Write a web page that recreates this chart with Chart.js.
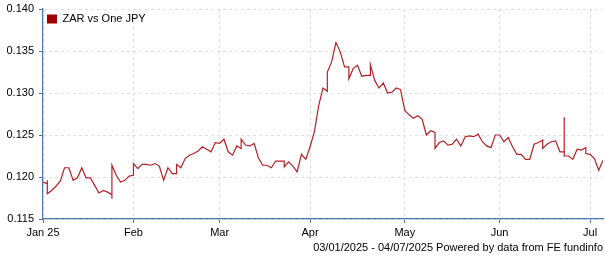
<!DOCTYPE html>
<html>
<head>
<meta charset="utf-8">
<script src="https://cdn.jsdelivr.net/npm/chart.js@4.4.1/dist/chart.umd.min.js"></script>
<style>
  html, body { margin: 0; padding: 0; background: #fff; }
  #wrap { width: 605px; height: 260px; }
</style>
</head>
<body>
<div id="wrap"><canvas id="myChart" width="605" height="260"></canvas></div>
<script>
// Rango de fechas (dias habiles)
const startDate = "2025-01-03";
const endDate = "2025-07-04";
const monthLabels = ["Jan 25", "Feb", "Mar", "Apr", "May", "Jun", "Jul"];
const yTicks = [0.115, 0.120, 0.125, 0.130, 0.135, 0.140];
const seriesName = "ZAR vs One JPY";
const footerText = "03/01/2025 - 04/07/2025 Powered by data from FE fundinfo";

// Un valor por dia habil; un array = varios valores el mismo dia (salto vertical)
const rates = [
  0.1194, [0.1192, 0.1196, 0.1180], 0.1184, 0.1189, 0.1195, 0.1211, 0.1211, 0.1196, 0.1199, 0.1211,
  0.1199, 0.1199, 0.1190, 0.1181, 0.1184, 0.1182, [0.1179, 0.1174, 0.1214], 0.1202, 0.1194, 0.1196,
  0.1201, [0.1202, 0.1216], 0.1210, 0.1215, 0.1215, 0.1214, 0.1216, 0.1213, 0.1196, 0.1211,
  0.1204, [0.1204, 0.1215], 0.1211, 0.1222, 0.1226, 0.1228, 0.1231, 0.1236, 0.1233, 0.1230,
  0.1241, 0.1240, 0.1245, 0.1230, 0.1226, 0.1237, [0.1234, 0.1245], 0.1238, 0.1237, 0.1240,
  0.1223, 0.1214, 0.1214, 0.1211, 0.1219, 0.1219, [0.1219, 0.1212], 0.1218, 0.1213, 0.1206,
  0.1227, 0.1221, 0.1236, 0.1254, 0.1285, 0.1306, [0.1302, 0.1325], 0.1337, 0.1360, 0.1349,
  0.1331, [0.1331, 0.1317], 0.1329, 0.1333, 0.1320, 0.1321, [0.1321, 0.1334], 0.1315, 0.1306, 0.1312,
  0.1300, 0.1301, 0.1306, 0.1304, 0.1279, 0.1274, 0.1270, 0.1273, 0.1269, 0.1250,
  0.1255, [0.1253, 0.1234], 0.1241, 0.1243, 0.1238, 0.1239, 0.1245, 0.1237, 0.1248, 0.1249,
  0.1248, 0.1251, 0.1242, 0.1237, 0.1235, 0.1250, 0.1250, 0.1242, 0.1247, 0.1236,
  0.1227, 0.1227, 0.1221, 0.1221, 0.1239, 0.1241, [0.1244, 0.1234], 0.1239, 0.1242, 0.1243,
  0.1230, [0.1230, 0.1271, 0.1225], 0.1225, 0.1221, 0.1233, 0.1232, [0.1235, 0.1228], 0.1227, 0.1222, 0.1208,
  0.1220
];

// Lista de dias habiles
function tradingDays(from, to) {
  const days = [];
  const d = new Date(from + "T00:00:00Z");
  const last = new Date(to + "T00:00:00Z");
  while (d <= last) {
    const wd = d.getUTCDay();
    if (wd !== 0 && wd !== 6) days.push(new Date(d));
    d.setUTCDate(d.getUTCDate() + 1);
  }
  return days;
}

const days = tradingDays(startDate, endDate);

// Primer dia habil de cada mes -> posicion de la marca
const monthTicks = [];
days.forEach((d, i) => {
  if (i === 0 || d.getUTCMonth() !== days[i - 1].getUTCMonth()) monthTicks.push(i);
});

const points = [];
rates.forEach((r, i) => {
  const vals = Array.isArray(r) ? r : [r];
  vals.forEach(v => points.push({ x: i, y: v }));
});

const axisBlue = "#4a78ae";
const gridGrey = "#e0e0e0";

Chart.defaults.font.family = "'Liberation Sans', Arial, sans-serif";
Chart.defaults.font.size = 11;
Chart.defaults.color = "#000";

const ctx = document.getElementById("myChart").getContext("2d");
const chart = new Chart(ctx, {
  type: "line",
  data: {
    datasets: [{
      label: seriesName,
      data: points,
      borderColor: "#b42025",
      backgroundColor: "#9e0000",
      borderWidth: 1.2,
      pointRadius: 0,
      tension: 0,
      fill: false
    }]
  },
  options: {
    responsive: false,
    animation: false,
    layout: { padding: { top: 9, right: 2, left: 0, bottom: 0 } },
    plugins: {
      legend: {
        position: "chartArea",
        align: "start",
        // titulo vacio solo para bajar la leyenda dentro del area
        title: {
          display: true,
          text: "",
          font: { size: 1, lineHeight: 1 },
          padding: { top: 8.5, bottom: 0 }
        },
        labels: {
          boxWidth: 10,
          boxHeight: 9,
          padding: 4,
          color: "#000",
          font: { size: 11 },
          generateLabels: (c) => [{
            text: seriesName,
            fillStyle: "#9e0000",
            strokeStyle: "#9e0000",
            lineWidth: 0,
            datasetIndex: 0
          }]
        }
      },
      title: {
        display: true,
        position: "bottom",
        align: "end",
        text: footerText,
        color: "#000",
        font: { size: 11, weight: "normal" },
        padding: { top: 0, bottom: 5 }
      },
      tooltip: { enabled: false }
    },
    scales: {
      x: {
        type: "linear",
        min: 0,
        max: days.length - 1,
        afterBuildTicks: (scale) => {
          scale.ticks = monthTicks.map(v => ({ value: v }));
        },
        afterFit: (scale) => { scale.height = 22.8; },
        ticks: {
          autoSkip: false,
          maxRotation: 0,
          padding: 3,
          color: "#000",
          callback: (v) => {
            const k = monthTicks.indexOf(v);
            return k >= 0 ? monthLabels[k] : null;
          }
        },
        grid: {
          color: gridGrey,
          tickColor: axisBlue,
          tickLength: 4,
          lineWidth: 1
        },
        border: { color: axisBlue, width: 1.2, dash: [3, 3] }
      },
      y: {
        min: yTicks[0],
        max: yTicks[yTicks.length - 1],
        afterBuildTicks: (scale) => {
          scale.ticks = yTicks.map(v => ({ value: v }));
        },
        afterFit: (scale) => {
          scale.width = 43;
          scale.paddingTop = 0;
          scale.paddingBottom = 0;
        },
        ticks: {
          padding: 5,
          color: "#000",
          callback: (v) => v.toFixed(3)
        },
        grid: {
          color: gridGrey,
          tickColor: axisBlue,
          tickLength: 4,
          lineWidth: 1
        },
        border: { color: axisBlue, width: 1.2, dash: [3, 3] }
      }
    }
  }
});
</script>
</body>
</html>
